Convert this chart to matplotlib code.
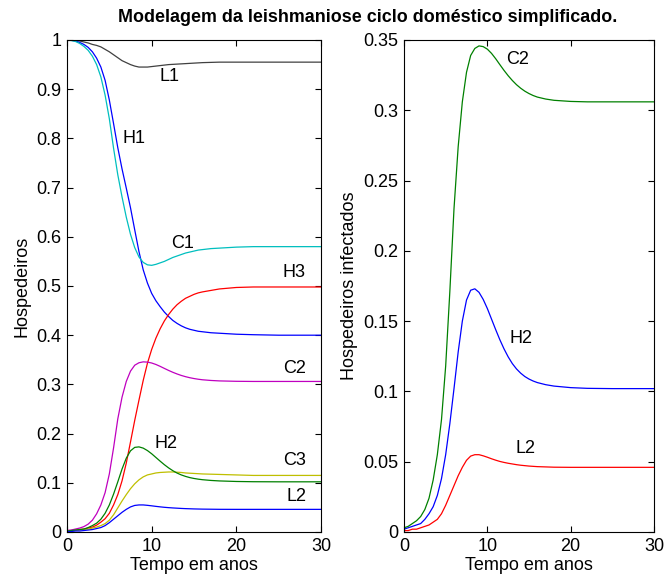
import matplotlib
matplotlib.use("Agg")
import matplotlib.pyplot as plt

plt.rcParams['font.family'] = ['Liberation Sans', 'DejaVu Sans']

# time (years)
t = [0, 0.5, 1, 1.5, 2, 2.5, 3, 3.5, 4, 4.5, 5, 5.5, 6, 6.5, 7, 7.5, 8, 8.5,
     9, 9.5, 10, 10.5, 11, 11.5, 12, 12.5, 13, 13.5, 14, 14.5, 15, 15.5, 16,
     17, 18, 20, 22, 25, 30]

L1 = [1.000, 1.000, 0.999, 0.998, 0.996, 0.994, 0.991, 0.989, 0.986, 0.981,
      0.976, 0.970, 0.964, 0.958, 0.954, 0.950, 0.947, 0.945, 0.945, 0.945,
      0.946, 0.947, 0.948, 0.949, 0.950, 0.9505, 0.951, 0.9515, 0.952, 0.9525,
      0.953, 0.9535, 0.954, 0.9545, 0.955, 0.955, 0.955, 0.955, 0.955]
H1 = [1.000, 0.9995, 0.998, 0.995, 0.991, 0.985, 0.976, 0.963, 0.945, 0.918,
      0.878, 0.830, 0.781, 0.738, 0.699, 0.659, 0.614, 0.570, 0.533, 0.506,
      0.485, 0.470, 0.458, 0.447, 0.438, 0.430, 0.424, 0.419, 0.415, 0.412,
      0.410, 0.408, 0.407, 0.405, 0.404, 0.402, 0.401, 0.400, 0.400]
C1 = [1.000, 0.999, 0.997, 0.993, 0.987, 0.979, 0.967, 0.950, 0.925, 0.888,
      0.840, 0.780, 0.726, 0.681, 0.640, 0.605, 0.578, 0.559, 0.548, 0.543,
      0.542, 0.544, 0.547, 0.550, 0.554, 0.558, 0.561, 0.564, 0.567, 0.569,
      0.571, 0.573, 0.574, 0.576, 0.577, 0.579, 0.580, 0.580, 0.580]
H3 = [0.003, 0.003, 0.004, 0.005, 0.006, 0.008, 0.010, 0.014, 0.020, 0.027,
      0.038, 0.055, 0.076, 0.104, 0.140, 0.183, 0.227, 0.268, 0.308, 0.343,
      0.371, 0.394, 0.413, 0.429, 0.442, 0.453, 0.462, 0.469, 0.475, 0.479,
      0.483, 0.486, 0.488, 0.491, 0.494, 0.497, 0.498, 0.498, 0.498]
C2 = [0.003, 0.004, 0.006, 0.008, 0.011, 0.016, 0.024, 0.037, 0.055, 0.080,
      0.118, 0.171, 0.230, 0.274, 0.306, 0.327, 0.339, 0.344, 0.3458, 0.3453,
      0.3435, 0.3405, 0.3367, 0.3325, 0.3284, 0.3246, 0.3212, 0.3182, 0.3157,
      0.3136, 0.3119, 0.3105, 0.3094, 0.3080, 0.3071, 0.3063, 0.3060, 0.3060,
      0.3060]
H2 = [0.002, 0.003, 0.004, 0.005, 0.006, 0.009, 0.013, 0.018, 0.026, 0.038,
      0.055, 0.077, 0.102, 0.128, 0.150, 0.165, 0.172, 0.173, 0.1705, 0.1655,
      0.1590, 0.1515, 0.1440, 0.1368, 0.1303, 0.1246, 0.1198, 0.1160, 0.1130,
      0.1106, 0.1088, 0.1074, 0.1063, 0.1048, 0.1038, 0.1027, 0.1022, 0.1020,
      0.1020]
C3 = [0.002, 0.002, 0.003, 0.004, 0.005, 0.006, 0.008, 0.010, 0.013, 0.017,
      0.024, 0.035, 0.049, 0.063, 0.076, 0.088, 0.098, 0.106, 0.112, 0.116,
      0.118, 0.120, 0.121, 0.1215, 0.122, 0.122, 0.1215, 0.121, 0.120, 0.1195,
      0.119, 0.1185, 0.118, 0.1175, 0.117, 0.116, 0.115, 0.115, 0.115]
L2 = [0.001, 0.001, 0.002, 0.002, 0.003, 0.004, 0.005, 0.007, 0.009, 0.013,
      0.019, 0.026, 0.033, 0.040, 0.046, 0.051, 0.054, 0.055, 0.0550, 0.0542,
      0.0532, 0.0521, 0.0511, 0.0502, 0.0495, 0.0489, 0.0484, 0.0479, 0.0475,
      0.0472, 0.0469, 0.0467, 0.0465, 0.0463, 0.0461, 0.0460, 0.0460, 0.0460,
      0.0460]

left_ticks_y = [0, 0.1, 0.2, 0.3, 0.4, 0.5, 0.6, 0.7, 0.8, 0.9, 1]
left_ticklabels_y = ['0', '0.1', '0.2', '0.3', '0.4', '0.5', '0.6', '0.7', '0.8', '0.9', '1']
right_ticks_y = [0, 0.05, 0.1, 0.15, 0.2, 0.25, 0.3, 0.35]
right_ticklabels_y = ['0', '0.05', '0.1', '0.15', '0.2', '0.25', '0.3', '0.35']
x_ticks = [0, 10, 20, 30]

title = 'Modelagem da leishmaniose ciclo doméstico simplificado.'

c_blue = (0, 0, 1)
c_green = (0, 0.5, 0)
c_red = (1, 0, 0)
c_cyan = (0, 0.75, 0.75)
c_mag = (0.75, 0, 0.75)
c_yel = (0.75, 0.75, 0)
c_gray = (0.25, 0.25, 0.25)

fig = plt.figure(figsize=(6.65, 5.83), dpi=100)
ax1 = fig.add_axes([67/665, 1-532/583, 254/665, 492/583])
ax2 = fig.add_axes([404/665, 1-532/583, 250/665, 492/583])

lw = 0.9
ax1.plot(t, L1, color=c_gray, lw=lw)
ax1.plot(t, H1, color=c_blue, lw=lw)
ax1.plot(t, C1, color=c_cyan, lw=lw)
ax1.plot(t, H3, color=c_red, lw=lw)
ax1.plot(t, C2, color=c_mag, lw=lw)
ax1.plot(t, C3, color=c_yel, lw=lw)
ax1.plot(t, H2, color=c_green, lw=lw)
ax1.plot(t, L2, color=c_blue, lw=lw)

ax2.plot(t, H2, color=c_blue, lw=lw)
ax2.plot(t, C2, color=c_green, lw=lw)
ax2.plot(t, L2, color=c_red, lw=lw)

fs = 13
lab1 = [('L1', 10.9, 0.926), ('H1', 6.6, 0.80), ('C1', 12.3, 0.587),
        ('H3', 25.5, 0.528), ('C2', 25.5, 0.333), ('H2', 10.3, 0.18),
        ('C3', 25.5, 0.146), ('L2', 25.9, 0.072)]
for s, x, y in lab1:
    ax1.text(x, y, s, fontsize=fs, ha='left', va='center')
lab2 = [('C2', 12.2, 0.336), ('H2', 12.7, 0.138), ('L2', 13.4, 0.0594)]
for s, x, y in lab2:
    ax2.text(x, y, s, fontsize=fs, ha='left', va='center')

for ax, yt, ytl, ymax in [(ax1, left_ticks_y, left_ticklabels_y, 1.0),
                          (ax2, right_ticks_y, right_ticklabels_y, 0.35)]:
    ax.set_xlim(0, 30)
    ax.set_ylim(0, ymax)
    ax.set_xticks(x_ticks)
    ax.set_xticklabels([str(v) for v in x_ticks])
    ax.set_yticks(yt)
    ax.set_yticklabels(ytl)
    ax.tick_params(direction='in', length=4, width=0.8, top=True, right=True,
                   labelsize=fs, pad=4)
    for sp in ax.spines.values():
        sp.set_linewidth(0.8)
    ax.set_xlabel('Tempo em anos', fontsize=fs, labelpad=2)

ax1.set_ylabel('Hospedeiros', fontsize=fs, labelpad=4)
ax2.set_ylabel('Hospedeiros infectados', fontsize=fs, labelpad=4)

fig.text(368/665, 1-18/583, title, ha='center', va='center',
         fontsize=12.9, fontweight='bold')

fig.savefig('out.png', dpi=100)
